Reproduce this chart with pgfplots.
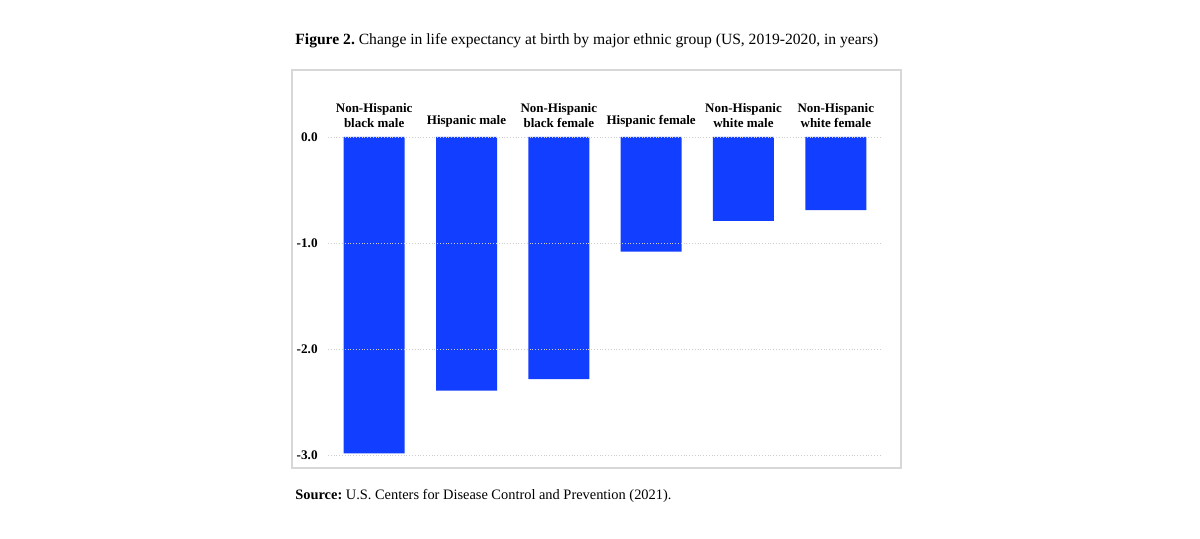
\documentclass[border=0pt]{standalone}
\usepackage{pgfplots}
\pgfplotsset{compat=1.18}
\usepackage{fontspec}
\setmainfont{Liberation Serif}
\frenchspacing
\definecolor{barblue}{RGB}{18,62,255}
\definecolor{framegray}{RGB}{215,215,215}
\definecolor{gridgray}{RGB}{205,205,205}
\begin{document}
\begin{tikzpicture}
\path[use as bounding box] (0,0) rectangle (600pt,269.5pt);
\draw[framegray, line width=0.6pt] (146pt,35.5pt) rectangle (450.5pt,234.5pt);
\node[anchor=base west, inner sep=0pt, font=\fontsize{7.8}{9.4}\selectfont] at (147.5pt,247.3pt) {\textbf{Figure 2.} Change in life expectancy at birth by major ethnic group (US, 2019-2020, in years)};
\node[anchor=base west, inner sep=0pt, font=\fontsize{7.2}{8.6}\selectfont] at (147.5pt,19.5pt) {\textbf{Source:} U.S. Centers for Disease Control and Prevention (2021).};
\begin{axis}[
  at={(164pt,41.75pt)}, anchor=south west,
  scale only axis, width=277pt, height=159.25pt,
  xmin=-0.5, xmax=5.5, ymin=-3, ymax=0,
  axis lines=none,
  clip=false,
  ytick={0,-1,-2,-3},
  xtick=\empty,
  ybar, bar width=30.5pt,
]
\addplot[draw=none, fill=barblue] coordinates {(0,-2.98) (1,-2.39) (2,-2.28) (3,-1.08) (4,-0.79) (5,-0.69)};
\foreach \v/\l in {0/0.0,-1/-1.0,-2/-2.0,-3/-3.0}{
  \edef\tmp{\noexpand\draw[gridgray, densely dotted, line width=0.4pt] (axis cs:-0.5,\v) -- (axis cs:5.5,\v);
  \noexpand\node[anchor=east, inner sep=0pt, font=\noexpand\fontsize{6.6}{8}\noexpand\selectfont\noexpand\bfseries] at (axis cs:-0.5,\v) [xshift=-5pt] {\l};}
  \tmp
}
\foreach \i/\t in {0/{Non-Hispanic\\black male},1/{Hispanic male},2/{Non-Hispanic\\black female},3/{Hispanic female},4/{Non-Hispanic\\white male},5/{Non-Hispanic\\white female}}{
  \edef\tmp{\noexpand\node[anchor=south, align=center, inner sep=0pt, font=\noexpand\fontsize{6.5}{7.5}\noexpand\selectfont\noexpand\bfseries] at (axis cs:\i,0) [yshift=4.5pt] {\unexpanded\expandafter{\t}};}
  \tmp
}
\end{axis}
\end{tikzpicture}
\end{document}
